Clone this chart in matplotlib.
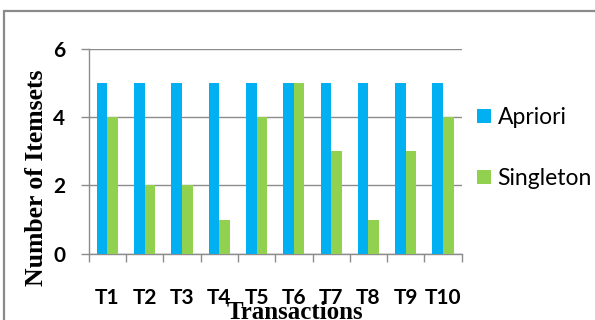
import matplotlib
matplotlib.use("Agg")
import matplotlib.pyplot as plt
import numpy as np
from matplotlib.patches import Rectangle

transactions = ["T1", "T2", "T3", "T4", "T5", "T6", "T7", "T8", "T9", "T10"]
apriori = [5, 5, 5, 5, 5, 5, 5, 5, 5, 5]
singleton = [4, 2, 2, 1, 4, 5, 3, 1, 3, 4]

BLUE = "#00B0F0"
GREEN = "#92D050"
GRID = "#8c8c8c"

W, H = 595, 320
fig = plt.figure(figsize=(W / 100, H / 100), dpi=100)

# chart frame, runs off the right and bottom edges
fig.patches.append(Rectangle((4 / W, -0.2), 1.2, 1 - 11 / H + 0.2,
                             transform=fig.transFigure, fill=False,
                             edgecolor="#8a8a8a", lw=1.6, zorder=0))

ax = fig.add_axes([88.7 / W, 1 - 253.7 / H, 373 / W, 204.7 / H])

x = np.arange(len(transactions))
bw = 0.285
ax.bar(x - bw / 2, apriori, bw, color=BLUE, label="Apriori", zorder=3)
ax.bar(x + bw / 2, singleton, bw, color=GREEN, label="Singleton", zorder=3)

ax.set_xlim(-0.5, len(transactions) - 0.5)
ax.set_ylim(0, 6)
ax.set_yticks([0, 2, 4, 6])
ax.yaxis.grid(True, color=GRID, lw=1)
ax.set_axisbelow(True)

for side in ["top", "right"]:
    ax.spines[side].set_visible(False)
for side in ["left", "bottom"]:
    ax.spines[side].set_color(GRID)
    ax.spines[side].set_linewidth(1)

ax.set_xticks(x)
ax.set_xticks(np.arange(-0.5, len(transactions), 1), minor=True)
ax.set_xticklabels(transactions, fontfamily="Lato", fontweight="bold", fontsize=15)
ax.tick_params(axis="x", which="major", length=0, pad=25)
ax.tick_params(axis="x", which="minor", length=6, color=GRID, width=1)
ax.tick_params(axis="y", length=6, color=GRID, width=1, pad=11)
for lbl in ax.get_yticklabels():
    lbl.set_fontfamily("Lato")
    lbl.set_fontweight("bold")
    lbl.set_fontsize(15)

fig.text(37 / W, 1 - 178 / H, "Number of Itemsets", rotation=90,
         ha="center", va="center", fontfamily="Liberation Serif",
         fontweight="bold", fontsize=18.5)
fig.text(295 / W, 1 - 301 / H, "Transactions", ha="center", va="top",
         fontfamily="Liberation Serif", fontweight="bold", fontsize=18)

ax.legend(loc="center left", bbox_to_anchor=(477 / W, 1 - 148 / H),
          bbox_transform=fig.transFigure, frameon=False,
          prop={"family": "Lato", "size": 16.5},
          handlelength=0.6, handleheight=0.6, handletextpad=0.3,
          labelspacing=1.75, borderaxespad=0, borderpad=0)

fig.savefig("out.png", dpi=100)
